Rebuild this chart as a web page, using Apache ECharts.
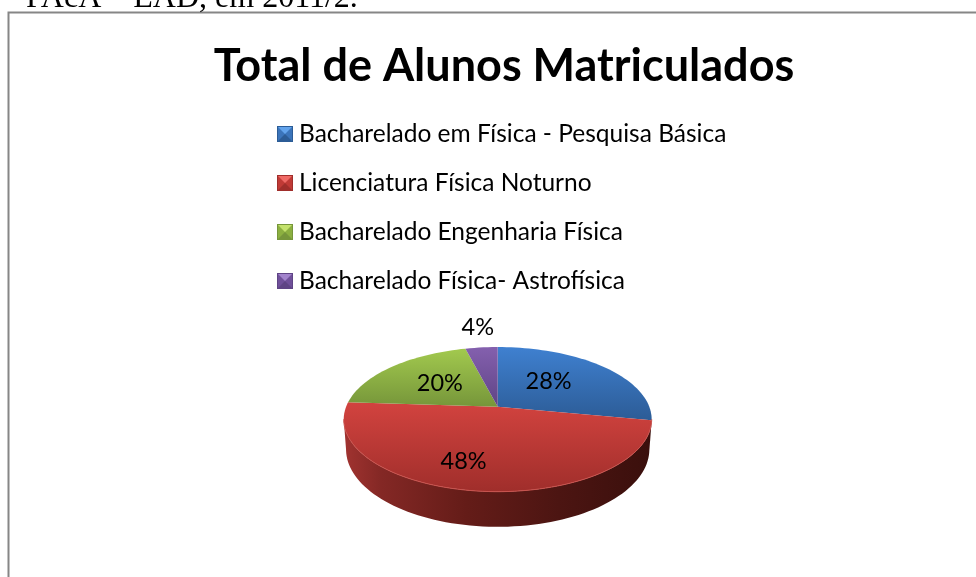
<!DOCTYPE html>
<html><head><meta charset="utf-8">
<style>html,body{margin:0;padding:0;background:#fff;overflow:hidden}#c{width:976px;height:577px}</style>
<script src="https://cdn.jsdelivr.net/npm/echarts@6/dist/echarts.min.js"></script>
</head><body><div id="c"></div>
<script>
const chartTitle = 'Total de Alunos Matriculados';
const headerText = 'PAcA – EAD, em 2011/2.';
const categories = ['Bacharelado em Física - Pesquisa Básica','Licenciatura Física Noturno','Bacharelado Engenharia Física','Bacharelado Física- Astrofísica'];
const shares = [28,48,20,4];
const baseColors = ['#3b74ba','#c03a36','#8cb040','#70509a'];
const lightColors = ['#62a3ec','#f06a66','#c4e26c','#a283cc'];
const topColors = ['#3f80d0','#d2433f','#a2c94e','#8460ae'];
const bottomColors = ['#2c5c96','#a02e2b','#76963a','#5f4485'];
const labelNudge = [[-25,4],[-19,-1],[18,6],[-1,-10]];
const labelRadius = [0.7,0.7,0.7,1.2];

// pie projection (tilted disc seen in perspective)
const P = {cx:497.7, cy:406.7, c:151.6, b:70.1, a:0.175, depth:29, step:2};
const total = shares.reduce((s,v)=>s+v,0);
function project(deg,r){
  const t=deg*Math.PI/180,u=r*Math.sin(t),v=r*Math.cos(t),w=1+P.a*v;
  return [P.cx+P.c*u/w, P.cy-P.b*v/w];
}
function projectBottom(deg){
  const t=deg*Math.PI/180,u=Math.sin(t),v=Math.cos(t),w=1+P.a*v;
  return [P.cx+0.985*P.c*u/w, P.cy-P.b*v/w+P.depth/w];
}
function arc(fn,a,b){
  const pts=[];
  for(let d=a;d<b;d+=P.step)pts.push(fn(d,1));
  pts.push(fn(b,1));
  return pts;
}
function renderSlice(idx){
  return function(params,api){
    const before=shares.slice(0,idx).reduce((s,v)=>s+v,0);
    const start=before/total*360, end=(before+api.value(0))/total*360;
    const children=[];
    const wa=Math.max(start,100), wb=Math.min(end,260);
    if(wb>wa){
      children.push({type:'polygon',silent:true,
        shape:{points:arc(project,wa,wb).concat(arc(projectBottom,wa,wb).reverse())},
        style:{fill:new echarts.graphic.LinearGradient(0,0,1,0,[
          {offset:0,color:'#a13330'},{offset:0.12,color:'#842825'},{offset:0.4,color:'#641c18'},
          {offset:0.7,color:'#4c1512'},{offset:1,color:'#3a0f0c'}])}});
    }
    children.push({type:'polygon',silent:true,
      shape:{points:[project(0,0)].concat(arc(project,start,end))},
      style:{fill:new echarts.graphic.LinearGradient(0,0,0,1,[
        {offset:0,color:topColors[idx]},{offset:1,color:bottomColors[idx]}])}});
    if(wb>wa){
      children.push({type:'polyline',silent:true,shape:{points:arc(project,wa,wb)},
        style:{stroke:'#c9534e',lineWidth:1,fill:null}});
    }
    return {type:'group',children};
  };
}
function renderLabel(idx){
  return function(params,api){
    const before=shares.slice(0,idx).reduce((s,v)=>s+v,0);
    const mid=(before+api.value(0)/2)/total*360;
    const p=project(mid,labelRadius[idx]);
    return {type:'text',silent:true,x:p[0]+labelNudge[idx][0],y:p[1]+labelNudge[idx][1],
      style:{text:api.value(0)+'%',fill:'#000',font:'23.5px Lato',align:'center',verticalAlign:'middle'}};
  };
}
function bevelIcon(i){
  const svg=`<svg xmlns="http://www.w3.org/2000/svg" width="16" height="16"><rect width="16" height="16" fill="${baseColors[i]}"/><polygon points="1,1 15,1 8,8" fill="${lightColors[i]}"/><polygon points="1,15 15,15 8,8" fill="${bottomColors[i]}"/><rect x="0.5" y="0.5" width="15" height="15" fill="none" stroke="${bottomColors[i]}"/></svg>`;
  return 'image://data:image/svg+xml;charset=utf-8,'+encodeURIComponent(svg);
}
const chart=echarts.init(document.getElementById('c'),null,{renderer:'canvas'});
chart.setOption({
  animation:false,
  backgroundColor:'#fff',
  title:{text:chartTitle,left:499,top:39,textAlign:'center',
    textStyle:{fontFamily:'Lato',fontWeight:'bold',fontSize:45,color:'#000'}},
  legend:{orient:'vertical',left:277,top:119,padding:0,itemWidth:16,itemHeight:16,itemGap:19,
    selectedMode:false,
    data:categories.map((n,i)=>({name:n,icon:bevelIcon(i)})),
    textStyle:{fontFamily:'Lato',fontSize:24.5,color:'#000',lineHeight:30,padding:[0,0,0,1]}},
  graphic:[
    {type:'rect',z:0,shape:{x:8.5,y:12.5,width:1000,height:620},style:{fill:'#fff',stroke:'#868686',lineWidth:2}},
    {type:'text',z:1,x:26,y:-17,style:{text:headerText,fill:'#000',font:'32px "Liberation Serif"'}}
  ],
  series:categories.map((n,i)=>({type:'custom',name:n,coordinateSystem:'none',z:3,
      itemStyle:{color:baseColors[i]},data:[[shares[i]]],renderItem:renderSlice(i)}))
    .concat(categories.map((n,i)=>({type:'custom',name:n+' rótulo',coordinateSystem:'none',z:5,
      data:[[shares[i]]],renderItem:renderLabel(i)})))
});
</script></body></html>
